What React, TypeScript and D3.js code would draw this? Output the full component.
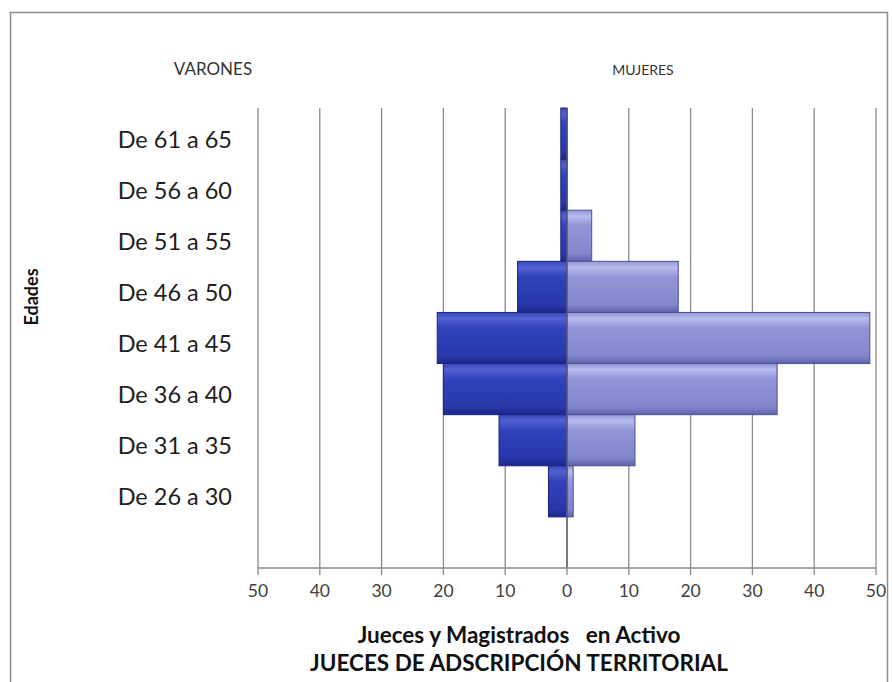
import * as d3 from 'd3';

// Population pyramid: judges by age group and sex
const categories = [
    'De 61 a 65', 'De 56 a 60', 'De 51 a 55', 'De 46 a 50',
    'De 41 a 45', 'De 36 a 40', 'De 31 a 35', 'De 26 a 30',
];
const varones = [1, 1, 1, 8, 21, 20, 11, 3];
const mujeres = [0, 0, 4, 18, 49, 34, 11, 1];
const tickValues = [-50, -40, -30, -20, -10, 0, 10, 20, 30, 40, 50];

const FONT = 'Lato, "Open Sans", sans-serif';

export default function App() {
    const width = 892;
    const height = 682;
    const plot = { left: 258, right: 876, top: 108, bottom: 568 };

    const x = d3.scaleLinear().domain([-50, 50]).range([plot.left, plot.right]);
    // extra empty band at the bottom, as in the original
    const y = d3.scaleBand<string>()
        .domain([...categories, ''])
        .range([plot.top, plot.bottom])
        .padding(0);

    const bw = y.bandwidth();
    const x0 = x(0);

    return (
        <svg width={width} height={height} style={{ position: 'absolute', left: 0, top: 0, background: '#fff' }}>
            <defs>
                <linearGradient id="gMen" x1="0" y1="0" x2="0" y2="1">
                    <stop offset="0" stopColor="#3646b8" />
                    <stop offset="0.12" stopColor="#5262d2" />
                    <stop offset="0.3" stopColor="#3142bb" />
                    <stop offset="0.85" stopColor="#2837aa" />
                    <stop offset="1" stopColor="#1c268a" />
                </linearGradient>
                <linearGradient id="gWomen" x1="0" y1="0" x2="0" y2="1">
                    <stop offset="0" stopColor="#9296d6" />
                    <stop offset="0.12" stopColor="#b8bbec" />
                    <stop offset="0.3" stopColor="#9296d8" />
                    <stop offset="0.85" stopColor="#8286cc" />
                    <stop offset="1" stopColor="#5e62a8" />
                </linearGradient>
            </defs>

            {/* chart border */}
            <rect x={10.5} y={12.5} width={877} height={700} fill="none" stroke="#8c8c8c" strokeWidth={1.5} />

            {/* vertical gridlines */}
            {tickValues.map(t => (
                <line key={'g' + t} x1={x(t)} x2={x(t)} y1={plot.top} y2={plot.bottom}
                    stroke="#8a8a8a" strokeWidth={1.3} />
            ))}

            {/* bars */}
            {categories.map((c, i) => {
                const yy = y(c) || 0;
                return (
                    <g key={c}>
                        {varones[i] > 0 && (
                            <rect x={x(-varones[i])} y={yy} width={x0 - x(-varones[i])} height={bw}
                                fill="url(#gMen)" stroke="#1a2380" strokeWidth={1} />
                        )}
                        {mujeres[i] > 0 && (
                            <rect x={x0} y={yy} width={x(mujeres[i]) - x0} height={bw}
                                fill="url(#gWomen)" stroke="#4a4e96" strokeWidth={1} />
                        )}
                    </g>
                );
            })}

            {/* zero line */}
            <line x1={x0} x2={x0} y1={plot.top} y2={plot.bottom} stroke="#5a5a7a" strokeWidth={1.3} />

            {/* x axis */}
            <line x1={plot.left} x2={plot.right} y1={plot.bottom} y2={plot.bottom} stroke="#8a8a8a" strokeWidth={1.3} />
            {tickValues.map(t => (
                <g key={'t' + t}>
                    <line x1={x(t)} x2={x(t)} y1={plot.bottom} y2={plot.bottom + 7} stroke="#8a8a8a" strokeWidth={1.3} />
                    <text x={x(t)} y={plot.bottom + 25} textAnchor="middle" dominantBaseline="middle"
                        fontFamily={FONT} fontSize={17.5} fill="#404040">{Math.abs(t)}</text>
                </g>
            ))}

            {/* category labels */}
            {categories.map(c => (
                <text key={'l' + c} x={232} y={(y(c) || 0) + bw / 2 + 8} textAnchor="end" dominantBaseline="middle"
                    fontFamily={FONT} fontSize={23.5} fill="#1e1e1e">{c}</text>
            ))}

            {/* headers */}
            <text x={213} y={71} textAnchor="middle" dominantBaseline="middle" fontFamily={FONT} fontSize={17} fill="#333">VARONES</text>
            <text x={643} y={71} textAnchor="middle" dominantBaseline="middle" fontFamily={FONT} fontSize={14} fill="#333">MUJERES</text>

            {/* axis titles */}
            <text transform="translate(33,297) rotate(-90)" textAnchor="middle" dominantBaseline="middle"
                fontFamily={FONT} fontSize={18} fontWeight="bold" fill="#111">Edades</text>
            <text x={519} y={637} textAnchor="middle" dominantBaseline="middle" fontFamily={FONT} fontSize={22.5}
                fontWeight="bold" fill="#111" style={{ whiteSpace: 'pre' }}>{'Jueces y Magistrados   en Activo'}</text>
            <text x={519} y={665} textAnchor="middle" dominantBaseline="middle" fontFamily={FONT} fontSize={22.5}
                fontWeight="bold" fill="#111">JUECES DE ADSCRIPCIÓN TERRITORIAL</text>
        </svg>
    );
}
